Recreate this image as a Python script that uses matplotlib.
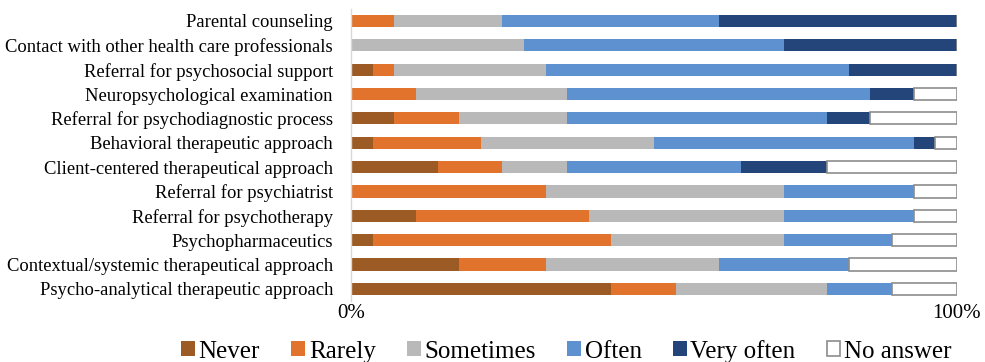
import matplotlib
matplotlib.use("Agg")
import matplotlib.pyplot as plt
import numpy as np

plt.rcParams['font.family'] = ['Liberation Serif', 'DejaVu Serif']

categories = [
    "Parental counseling",
    "Contact with other health care professionals",
    "Referral for psychosocial support",
    "Neuropsychological examination",
    "Referral for psychodiagnostic process",
    "Behavioral therapeutic approach",
    "Client-centered therapeutical approach",
    "Referral for psychiatrist",
    "Referral for psychotherapy",
    "Psychopharmaceutics",
    "Contextual/systemic therapeutical approach",
    "Psycho-analytical therapeutic approach",
]

# Number of respondents (out of 28) per answer, in category order
never      = [0, 0, 1, 0, 2, 1, 4, 0, 3, 1, 5, 12]
rarely     = [2, 0, 1, 3, 3, 5, 3, 9, 8, 11, 4, 3]
sometimes  = [5, 8, 7, 7, 5, 8, 3, 11, 9, 8, 8, 7]
often      = [10, 12, 14, 14, 12, 12, 8, 6, 6, 5, 6, 3]
very_often = [11, 8, 5, 2, 2, 1, 4, 0, 0, 0, 0, 0]
no_answer  = [0, 0, 0, 2, 4, 1, 6, 2, 2, 3, 5, 3]

series_names = ["Never", "Rarely", "Sometimes", "Often", "Very often", "No answer"]
series = [never, rarely, sometimes, often, very_often, no_answer]
colors = ["#9C5B24", "#E2732C", "#B9B9B9", "#5E91D0", "#244579", "#FFFFFF"]
edges = [None, None, None, None, None, "#8C8C8C"]

counts = np.array(series, dtype=float)
shares = counts / counts.sum(axis=0)

fig = plt.figure(figsize=(9.85, 3.62), dpi=100)
ax = fig.add_axes([0.3563, 0.1685, 0.6152, 0.8072])

y = np.arange(len(categories))
left = np.zeros(len(categories))
for name, vals, col, ec in zip(series_names, shares, colors, edges):
    kw = dict(edgecolor=ec, linewidth=1.2) if ec else dict(linewidth=0)
    ax.barh(y, vals, left=left, height=0.5, color=col, label=name, **kw)
    left += vals

ax.set_ylim(len(categories) - 0.5, -0.5)
ax.set_xlim(0, 1)
ax.set_yticks(y)
ax.set_yticklabels(categories, fontsize=13.4)
ax.set_xticks([0, 1])
ax.set_xticklabels(["0%", "100%"], fontsize=15)
ax.tick_params(axis='both', length=0)
ax.tick_params(axis='y', pad=13)
ax.tick_params(axis='x', pad=2)
for s in ["top", "right", "bottom"]:
    ax.spines[s].set_visible(False)
ax.spines["left"].set_color("#D9D9D9")
ax.spines["left"].set_linewidth(1)

fig.legend(loc="center", bbox_to_anchor=(0.575, 0.03), ncol=6, frameon=False,
           fontsize=18, handlelength=0.55, handleheight=0.55, handletextpad=0.15,
           columnspacing=1.25, borderaxespad=0)

fig.savefig("out.png", dpi=100)
